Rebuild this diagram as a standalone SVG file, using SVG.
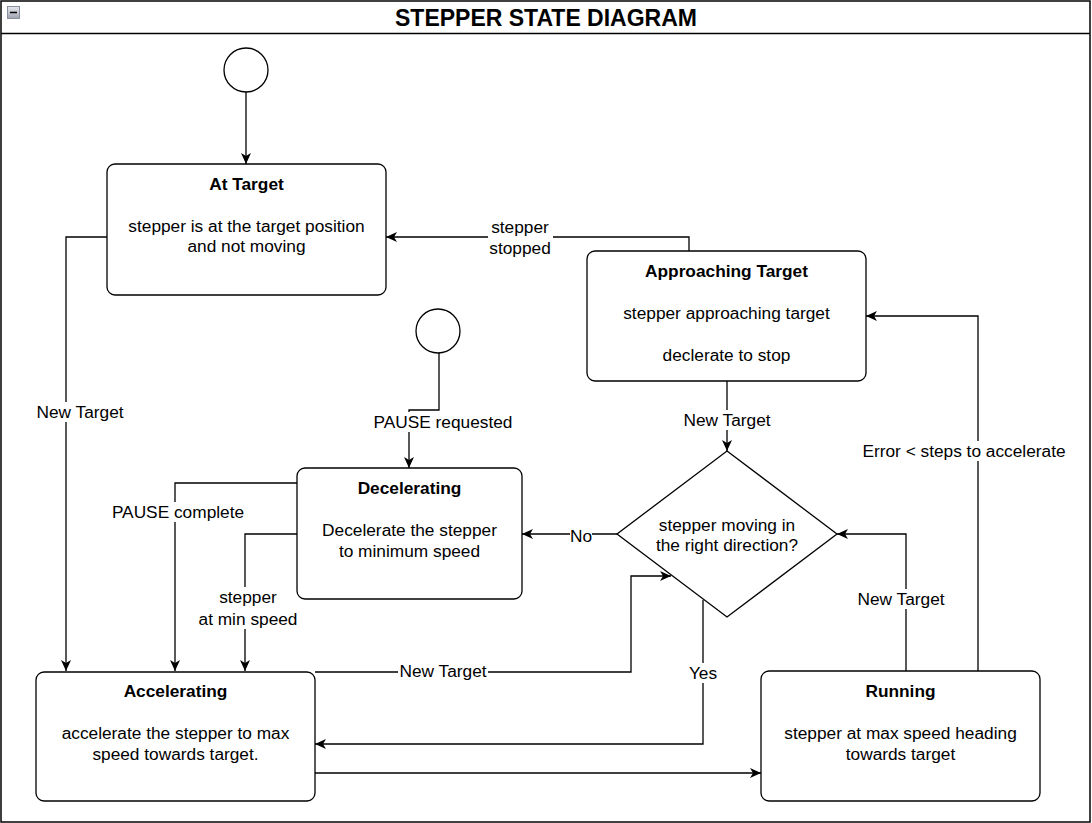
<svg xmlns="http://www.w3.org/2000/svg" width="1092" height="823" viewBox="0 0 1092 823">
<defs>
<marker id="arr" viewBox="0 0 11 10" refX="11" refY="5" markerWidth="11" markerHeight="10" markerUnits="userSpaceOnUse" orient="auto">
<path d="M0,0 L11,5 L0,10 L3,5 Z" fill="#000"/>
</marker>
<linearGradient id="ig" x1="0" y1="0" x2="0" y2="1">
<stop offset="0" stop-color="#e8e8ee"/><stop offset="1" stop-color="#a0a4b0"/>
</linearGradient>
</defs>
<style>
text{font-family:"Liberation Sans",Arial,sans-serif;font-size:17.3px;fill:#000;text-anchor:middle}
.t{font-weight:bold}
.box{fill:#fff;stroke:#000;stroke-width:1.3}
.e{fill:none;stroke:#000;stroke-width:1.3;marker-end:url(#arr)}
.bg{fill:#fff}
</style>
<rect x="0" y="0" width="1092" height="823" fill="#fff"/>
<g id="frame">
<rect x="1" y="1" width="1089" height="821" fill="none" stroke="#000" stroke-width="1.5"/>
<line x1="1" y1="33.5" x2="1090" y2="33.5" stroke="#000" stroke-width="1.5"/>
<rect x="7.5" y="6.5" width="12" height="12" fill="url(#ig)" stroke="#8890a0" stroke-width="1"/>
<line x1="10" y1="12.5" x2="17" y2="12.5" stroke="#000" stroke-width="1.5"/>
<text x="546" y="26" style="font-size:23px;font-weight:bold">STEPPER STATE DIAGRAM</text>
</g>
<g id="connectors">
<path class="e" d="M246,92 V164"/>
<path class="e" d="M107,237 H66 V671"/>
<path class="e" d="M689,251 V237 H386"/>
<path class="e" d="M727,381 V451"/>
<path class="e" d="M439,353 V410 H409 V468"/>
<path class="e" d="M297,483 H175 V671"/>
<path class="e" d="M297,534 H245 V671"/>
<path class="e" d="M617,534 H522"/>
<path class="e" d="M315,672 H631 V576 H671"/>
<path class="e" d="M703,600 V744 H315"/>
<path class="e" d="M315,773 H761"/>
<path class="e" d="M906,671 V534 H837"/>
<path class="e" d="M978,671 V316 H866"/>
<g id="labels">
<rect class="bg" x="35" y="402" width="90" height="20"/><text x="80" y="418">New Target</text>
<rect class="bg" x="488" y="217" width="65" height="42"/><text x="520" y="233">stepper</text><text x="520" y="254">stopped</text>
<rect class="bg" x="682" y="410" width="90" height="20"/><text x="727" y="426">New Target</text>
<rect class="bg" x="372" y="412" width="143" height="20"/><text x="443" y="428">PAUSE requested</text>
<rect class="bg" x="109" y="502" width="138" height="20"/><text x="178" y="518">PAUSE complete</text>
<rect class="bg" x="197" y="587" width="102" height="42"/><text x="248" y="603">stepper</text><text x="248" y="625">at min speed</text>
<rect class="bg" x="570" y="526" width="22" height="20"/><text x="581" y="542">No</text>
<rect class="bg" x="398" y="661" width="90" height="20"/><text x="443" y="677">New Target</text>
<rect class="bg" x="689" y="663" width="29" height="20"/><text x="703" y="679">Yes</text>
<rect class="bg" x="856" y="589" width="90" height="20"/><text x="901" y="605">New Target</text>
<rect class="bg" x="860" y="441" width="208" height="20"/><text x="964" y="457">Error &lt; steps to accelerate</text>
</g>
</g>
<g id="start1"><circle cx="246" cy="70" r="22" fill="#fff" stroke="#000" stroke-width="1.3"/></g>
<g id="start2"><circle cx="438" cy="331" r="22" fill="#fff" stroke="#000" stroke-width="1.3"/></g>
<g id="atTarget">
<rect class="box" x="107" y="164" width="279" height="131" rx="8"/>
<text class="t" x="246.5" y="190">At Target</text>
<text x="246.5" y="232">stepper is at the target position</text>
<text x="246.5" y="252">and not moving</text>
</g>
<g id="approaching">
<rect class="box" x="587" y="251" width="279" height="130" rx="8"/>
<text class="t" x="726.5" y="277">Approaching Target</text>
<text x="726.5" y="319">stepper approaching target</text>
<text x="726.5" y="361">declerate to stop</text>
</g>
<g id="decelerating">
<rect class="box" x="297" y="468" width="225" height="131" rx="8"/>
<text class="t" x="409.5" y="494">Decelerating</text>
<text x="409.5" y="536">Decelerate the stepper</text>
<text x="409.5" y="557">to minimum speed</text>
</g>
<g id="decision">
<path class="box" d="M727,451 L837,534 L727,617 L617,534 Z"/>
<text x="727" y="531">stepper moving in</text>
<text x="727" y="551">the right direction?</text>
</g>
<g id="accelerating">
<rect class="box" x="36" y="672" width="279" height="129" rx="8"/>
<text class="t" x="175.5" y="697">Accelerating</text>
<text x="175.5" y="739">accelerate the stepper to max</text>
<text x="175.5" y="760">speed towards target.</text>
</g>
<g id="running">
<rect class="box" x="761" y="671" width="279" height="130" rx="8"/>
<text class="t" x="900.5" y="697">Running</text>
<text x="900.5" y="739">stepper at max speed heading</text>
<text x="900.5" y="760">towards target</text>
</g>
</svg>
